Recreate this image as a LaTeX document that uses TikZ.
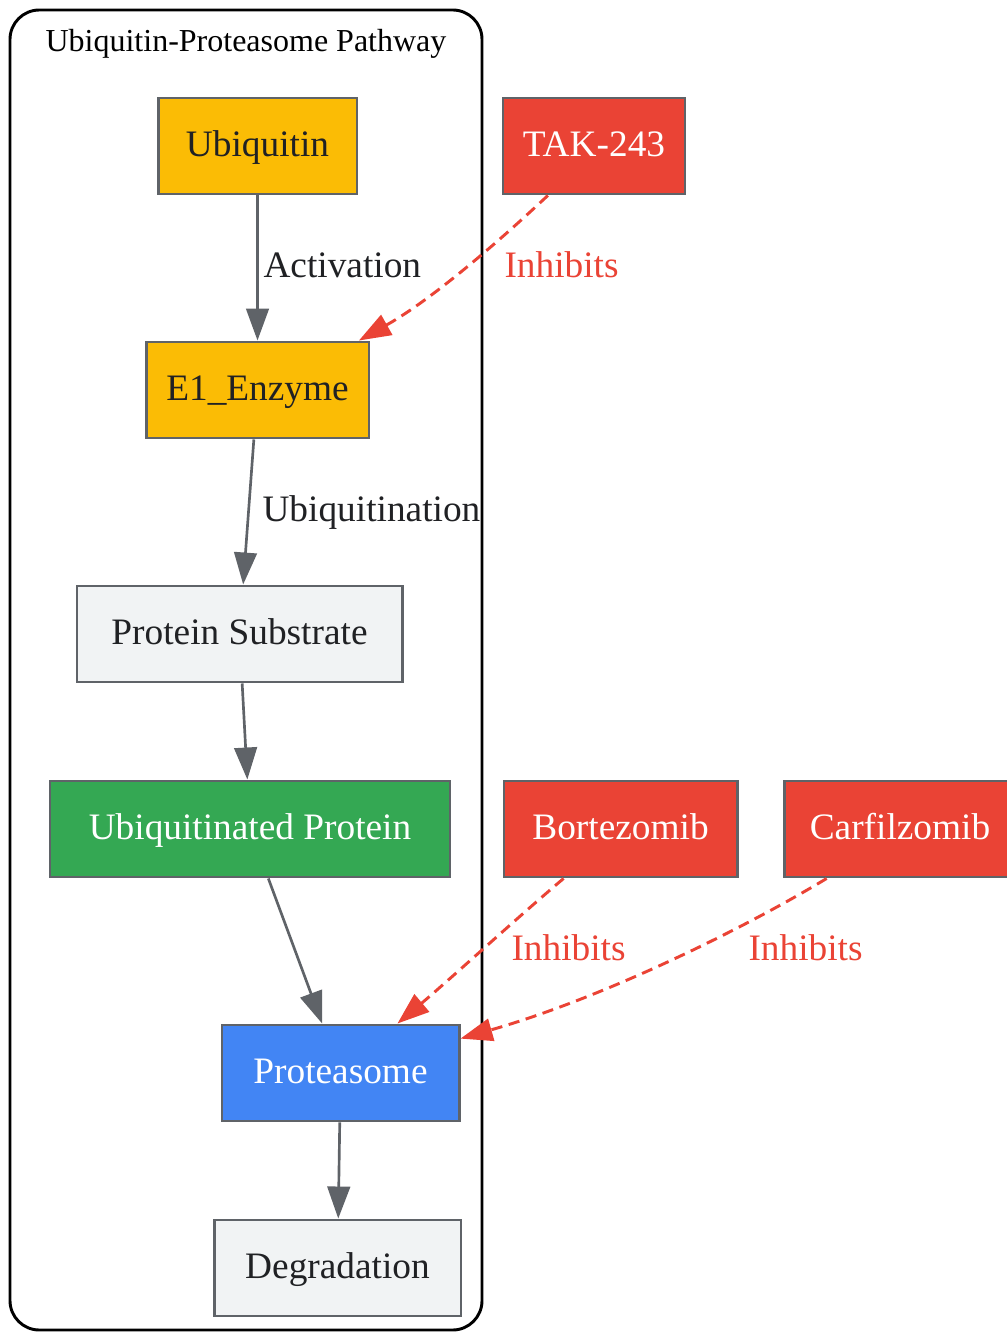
\documentclass[tikz,border=0pt]{standalone}
\usepackage{fontspec}
\setmainfont{Liberation Serif}
\usepackage{tikz}
\usetikzlibrary{arrows.meta}
\definecolor{gyellow}{HTML}{FBBC05}
\definecolor{gred}{HTML}{EA4335}
\definecolor{ggreen}{HTML}{34A853}
\definecolor{gblue}{HTML}{4285F4}
\definecolor{glight}{HTML}{F1F3F4}
\definecolor{gline}{HTML}{5F6368}
\definecolor{gtext}{HTML}{202124}

\begin{document}
\begin{tikzpicture}[
  x=0.375pt, y=-0.375pt,
  stage/.style={draw=gline, line width=1.1pt, minimum height=36pt, inner sep=0pt,
    text height=10.5pt, text depth=2.5pt, font=\fontsize{14}{16}\selectfont, text=gtext},
  enzyme/.style={stage, fill=gyellow},
  plain/.style={stage, fill=glight},
  tagged/.style={stage, fill=ggreen, text=white},
  core/.style={stage, fill=gblue, text=white},
  drug/.style={stage, fill=gred, text=white},
  flow/.style={draw=gline, line width=1pt, -{Triangle[length=12pt,width=8.5pt]}},
  block/.style={draw=gred, line width=1.1pt, dash pattern=on 4.2pt off 2.5pt,
    -{Triangle[length=12pt,width=8.5pt]}},
  lbl/.style={font=\fontsize{14}{16}\selectfont, text=gtext, anchor=base west, inner sep=0pt},
  inh/.style={lbl, text=gred},
]
\useasboundingbox (0,0) rectangle (1006,1332);

% cluster
\draw[line width=1.1pt, rounded corners=11pt] (10,10) rectangle (482,1330);
\node[font=\fontsize{12}{14}\selectfont, anchor=base, inner sep=0pt] (title) at (246,52) {Ubiquitin-Proteasome Pathway};

% pathway
\node[enzyme, minimum width=74.6pt] (ubq) at (257.5,146) {Ubiquitin};
\node[enzyme, minimum width=83.6pt] (e1) at (257.5,390) {E1\_Enzyme};
\node[plain, minimum width=121.9pt] (sub) at (239.5,634) {Protein Substrate};
\node[tagged, minimum width=150pt] (ubp) at (250,829) {Ubiquitinated Protein};
\node[core, minimum width=88.9pt] (prot) at (340.5,1073) {Proteasome};
\node[plain, minimum width=92.6pt] (deg) at (337.5,1268) {Degradation};

% inhibitors
\node[drug, minimum width=68.25pt] (tak) at (594,146) {TAK-243};
\node[drug, minimum width=87.4pt] (bort) at (620.5,829) {Bortezomib};
\node[drug, minimum width=86.3pt] (carf) at (900,829) {Carfilzomib};

\draw[flow] (ubq) -- (e1);
\draw[flow] (e1) -- (sub);
\draw[flow] (sub) -- (ubp);
\draw[flow] (ubp) -- (prot);
\draw[flow] (prot) -- (deg);

\node[lbl] (lact) at (263,278) {Activation};
\node[lbl] (lubi) at (262,521.5) {Ubiquitination};

\draw[block] (tak.227) .. controls +(-49,46) and +(73,-41) .. (e1.26);
\draw[block] (bort.221) .. controls +(-45,38) and +(50,-42) .. (prot.41);
\draw[block] (carf.214) .. controls +(-88,53) and +(140,-40) .. (prot.16);

\node[inh] (ltak) at (504,277.5) {Inhibits};
\node[inh] (lbort) at (511,960) {Inhibits};
\node[inh] (lcarf) at (748,960) {Inhibits};
\end{tikzpicture}
\end{document}
